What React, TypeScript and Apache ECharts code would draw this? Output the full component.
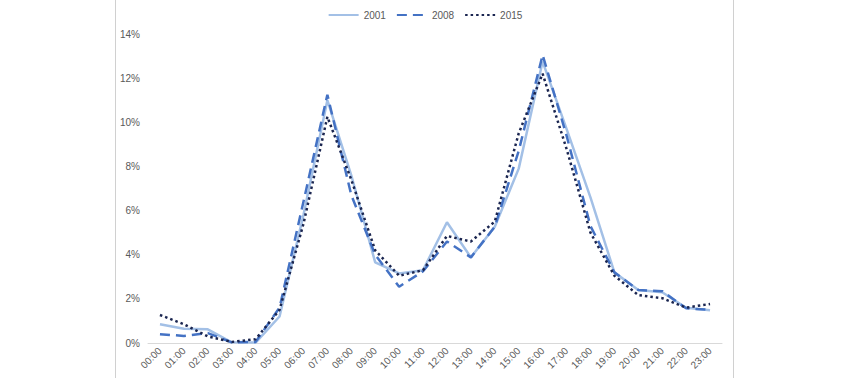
import React, { useEffect, useRef } from "react";
import * as echarts from "echarts";

const hours = [
  "00:00", "01:00", "02:00", "03:00", "04:00", "05:00", "06:00", "07:00",
  "08:00", "09:00", "10:00", "11:00", "12:00", "13:00", "14:00", "15:00",
  "16:00", "17:00", "18:00", "19:00", "20:00", "21:00", "22:00", "23:00",
];
const seriesNames = ["2001", "2008", "2015"];
const values2001 = [0.85, 0.65, 0.62, 0.03, 0.02, 1.2, 5.8, 11.0, 7.6, 3.65, 3.15, 3.3, 5.47, 3.88, 5.27, 7.9, 12.75, 9.7, 6.6, 3.2, 2.4, 2.3, 1.6, 1.48];
const values2008 = [0.4, 0.32, 0.45, 0.03, 0.05, 1.6, 6.4, 11.25, 6.7, 4.0, 2.55, 3.25, 4.6, 3.88, 5.27, 8.7, 13.05, 9.4, 5.3, 3.2, 2.4, 2.35, 1.57, 1.5];
const values2015 = [1.27, 0.85, 0.3, 0.05, 0.17, 1.5, 5.4, 10.25, 7.4, 4.2, 3.05, 3.3, 4.85, 4.6, 5.5, 9.5, 12.2, 8.8, 5.0, 3.05, 2.17, 2.03, 1.6, 1.77];

const FONT = "'Liberation Sans Narrow', 'Liberation Sans', Arial, sans-serif";

export default function App() {
  const ref = useRef<HTMLDivElement>(null);
  useEffect(() => {
    if (!ref.current) return;
    const chart = echarts.init(ref.current, null, { renderer: "svg" });
    chart.setOption({
      animation: false,
      backgroundColor: "#ffffff",
      textStyle: { fontFamily: FONT },
      legend: {
        top: 5,
        left: "center",
        itemWidth: 30,
        itemHeight: 10,
        itemGap: 10,
        itemStyle: { opacity: 0 },
        textStyle: { color: "#595959", fontSize: 10, fontFamily: FONT },
        data: seriesNames,
      },
      grid: { left: 148, right: 128, top: 34, bottom: 35, containLabel: false },
      xAxis: {
        type: "category",
        data: hours,
        boundaryGap: true,
        axisLine: { show: true, lineStyle: { color: "#d9d9d9", width: 1 } },
        axisTick: { show: false },
        axisLabel: {
          rotate: 45,
          color: "#595959",
          fontSize: 10,
          fontFamily: FONT,
          interval: 0,
          margin: 6,
        },
        splitLine: { show: false },
      },
      yAxis: {
        type: "value",
        min: 0,
        max: 14,
        interval: 2,
        axisLine: { show: false },
        axisTick: { show: false },
        splitLine: { show: false },
        axisLabel: {
          formatter: "{value}%",
          color: "#595959",
          fontSize: 10,
          fontFamily: FONT,
          margin: 8,
        },
      },
      graphic: [
        { type: "rect", z: 100, shape: { x: 115, y: 0, width: 1, height: 378 }, style: { fill: "#d0d0d0" } },
        { type: "rect", z: 100, shape: { x: 733, y: 0, width: 1, height: 378 }, style: { fill: "#d0d0d0" } },
      ],
      series: [
        {
          name: "2001",
          type: "line",
          data: values2001,
          symbol: "none",
          lineStyle: { color: "#a3c0e6", width: 2.5, type: "solid" },
          itemStyle: { color: "#a3c0e6" },
          z: 1,
        },
        {
          name: "2008",
          type: "line",
          data: values2008,
          symbol: "none",
          lineStyle: { color: "#4472c4", width: 2.5, type: [10, 6] },
          itemStyle: { color: "#4472c4" },
          z: 2,
        },
        {
          name: "2015",
          type: "line",
          data: values2015,
          symbol: "none",
          lineStyle: { color: "#1a2550", width: 2.5, type: [2.5, 3] },
          itemStyle: { color: "#1a2550" },
          z: 3,
        },
      ],
    });
    return () => chart.dispose();
  }, []);
  return (
    <div
      ref={ref}
      style={{ position: "fixed", left: 0, top: 0, width: 850, height: 378 }}
    />
  );
}
